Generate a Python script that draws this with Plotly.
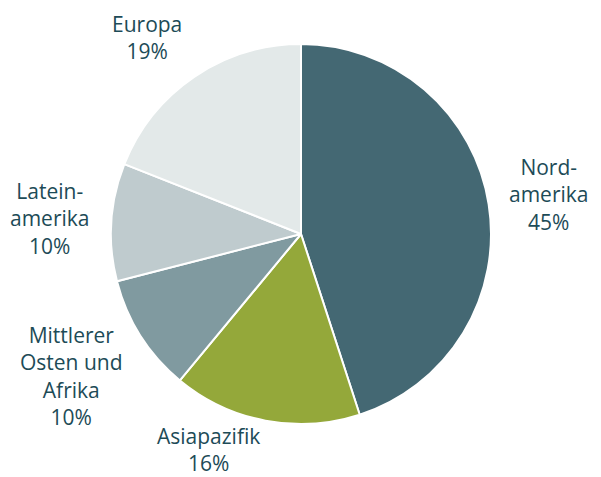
"""Umsatz nach Regionen - Kreisdiagramm."""

import math

import plotly.graph_objects as go

regions = ["Nord-<br>amerika", "Asiapazifik", "Mittlerer<br>Osten und<br>Afrika", "Latein-<br>amerika", "Europa"]
shares = [45, 16, 10, 10, 19]
colors = ["#446873", "#94a83a", "#809aa0", "#bfcbce", "#e3e9e9"]

W, H = 601, 477
OFF = 8  # page body margin
CX, CY, R = 301 - OFF, 234 - OFF, 190  # pie centre / radius in figure px
BOTTOM = H - OFF  # last visible pixel row of the figure
TEXT = "#1d4b57"
FONT = "Open Sans, sans-serif"
FONT_SIZE = 21
LINE_H = 28

fig = go.Figure(
    go.Pie(
        labels=[r.replace("<br>", " ") for r in regions],
        values=shares,
        sort=False,
        direction="clockwise",
        rotation=0,
        marker={"colors": colors, "line": {"color": "white", "width": 2}},
        textinfo="none",
        hoverinfo="label+percent",
        domain={"x": [(CX - R) / W, (CX + R) / W], "y": [1 - (CY + R) / H, 1 - (CY - R) / H]},
        showlegend=False,
    )
)

# labels placed outside, along each slice's mid-angle
total = sum(shares)
cum = 0
for name, v in zip(regions, shares):
    mid = 2 * math.pi * (cum + v / 2) / total
    cum += v
    s, c = math.sin(mid), math.cos(mid)
    px = CX + 1.1 * R * s
    py = CY - 1.1 * R * c
    h = (name.count("<br>") + 2) * LINE_H
    yc = py - c * h / 2
    yc = min(yc, BOTTOM - h / 2)  # keep the label on the page
    fig.add_annotation(
        x=px / W,
        y=1 - yc / H,
        xref="paper",
        yref="paper",
        text=f"{name}<br>{round(100 * v / total)}%",
        showarrow=False,
        xanchor="left" if s > 0 else "right",
        yanchor="middle",
        align="center",
        font={"size": FONT_SIZE, "color": TEXT, "family": FONT},
    )

fig.update_layout(
    width=W,
    height=H,
    margin={"l": 0, "r": 0, "t": 0, "b": 0},
    paper_bgcolor="white",
    plot_bgcolor="white",
)

fig.write_html("out.html")
